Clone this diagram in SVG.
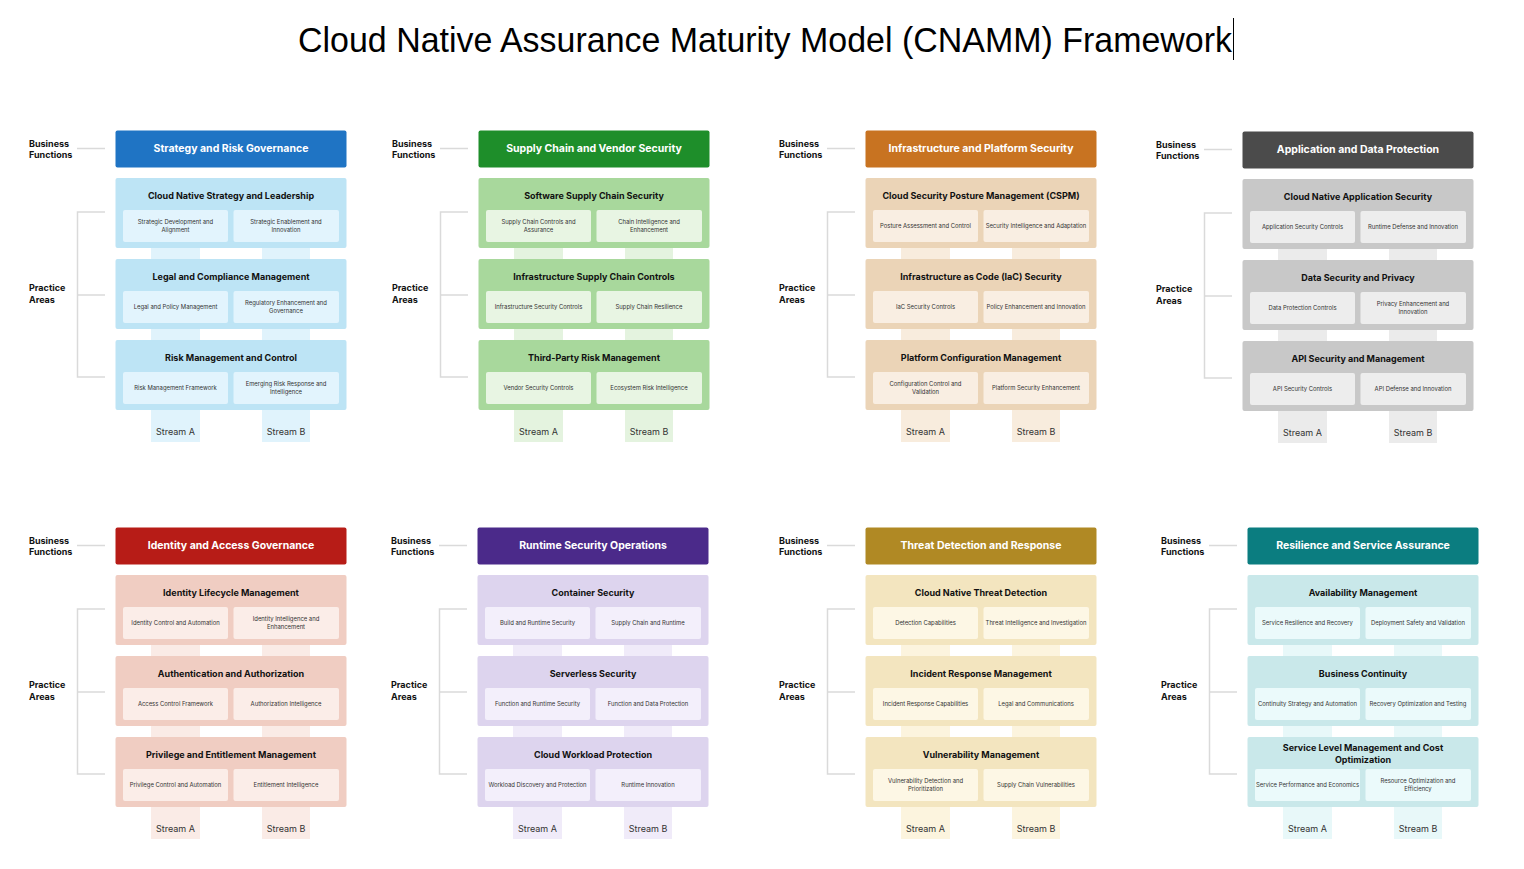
<svg xmlns="http://www.w3.org/2000/svg" width="1524" height="869" viewBox="0 0 1524 869">
<style>
text{font-family:Inter,"Noto Sans","Liberation Sans",sans-serif}
.ttl{font-family:"Liberation Sans",Arial,sans-serif;font-size:35px;fill:#000}
.lbl{font-size:9px;font-weight:700;fill:#111}
.hdt{font-size:10.5px;font-weight:700;fill:#fff;text-anchor:middle}
.bt{font-size:9px;font-weight:700;fill:#111;text-anchor:middle}
.sb{font-size:5.9px;fill:#333;text-anchor:middle}
.str{font-size:9px;fill:#333;text-anchor:middle}
.cn{fill:none;stroke:#dadada;stroke-width:1.5}
.p1 .h{fill:#1f74c4}.p1 .b{fill:#bde4f5}.p1 .s{fill:#e2f4fd}.p1 .c{fill:#e0f3fc}
.p2 .h{fill:#1e8e2a}.p2 .b{fill:#a8d89c}.p2 .s{fill:#e8f5e3}.p2 .c{fill:#e4f3df}
.p3 .h{fill:#c87321}.p3 .b{fill:#ebd4b7}.p3 .s{fill:#f9eee2}.p3 .c{fill:#f8ecdd}
.p4 .h{fill:#4b4b4b}.p4 .b{fill:#c8c8c8}.p4 .s{fill:#ededed}.p4 .c{fill:#ebebeb}
.p5 .h{fill:#b71c17}.p5 .b{fill:#f0cdc2}.p5 .s{fill:#fbede8}.p5 .c{fill:#faebe6}
.p6 .h{fill:#4b2a8a}.p6 .b{fill:#ddd4ee}.p6 .s{fill:#f3effb}.p6 .c{fill:#f0ebf9}
.p7 .h{fill:#b08924}.p7 .b{fill:#f3e5bf}.p7 .s{fill:#fdf7e5}.p7 .c{fill:#fcf4de}
.p8 .h{fill:#0b7d80}.p8 .b{fill:#c9e8ea}.p8 .s{fill:#ebfafb}.p8 .c{fill:#e8f8f9}
</style>
<defs>
<g id="cnx">
<line class="cn" x1="77" y1="148.5" x2="105" y2="148.5"/>
<path class="cn" d="M105 212H77.5V377H105M77.5 295H105"/>
</g>
<g id="labels">
<text class="lbl" x="29" y="147">Business</text>
<text class="lbl" x="29" y="158">Functions</text>
<text class="lbl" x="29" y="291">Practice</text>
<text class="lbl" x="29" y="303">Areas</text>
</g>
</defs>
<rect width="1524" height="869" fill="#fff"/>
<text id="title" class="ttl" x="298" y="52" textLength="934" lengthAdjust="spacingAndGlyphs">Cloud Native Assurance Maturity Model (CNAMM) Framework</text>
<line x1="1233.5" y1="18" x2="1233.5" y2="60" stroke="#000" stroke-width="1"/>

<g id="connectors">
<use href="#cnx"/>
<use href="#cnx" transform="translate(363,0)"/>
<use href="#cnx" transform="translate(750,0)"/>
<use href="#cnx" transform="translate(1127,1)"/>
<use href="#cnx" transform="translate(0,397)"/>
<use href="#cnx" transform="translate(362,397)"/>
<use href="#cnx" transform="translate(750,397)"/>
<use href="#cnx" transform="translate(1132,397)"/>
</g>

<!-- Panel 1 -->
<g id="panel-strategy" class="p1">
<use href="#labels"/>
<rect class="c" x="151" y="178" width="49" height="264"/><rect class="c" x="262" y="178" width="48" height="264"/>
<g id="strategy-header"><rect class="h" x="115.5" y="130.5" width="231" height="37" rx="2"/><text class="hdt" x="231" y="152">Strategy and Risk Governance</text></g>
<g id="cloud-native-strategy"><rect class="b" x="115.5" y="178" width="231" height="70" rx="2"/><text class="bt" x="231" y="199">Cloud Native Strategy and Leadership</text>
<rect class="s" x="123" y="210" width="105" height="32" rx="2"/><rect class="s" x="233.5" y="210" width="105.5" height="32" rx="2"/>
<text class="sb" x="175.5" y="224.3">Strategic Development and</text><text class="sb" x="175.5" y="231.7">Alignment</text>
<text class="sb" x="286" y="224.3">Strategic Enablement and</text><text class="sb" x="286" y="231.7">Innovation</text></g>
<g id="legal-compliance"><rect class="b" x="115.5" y="259" width="231" height="70" rx="2"/><text class="bt" x="231" y="280">Legal and Compliance Management</text>
<rect class="s" x="123" y="291" width="105" height="32" rx="2"/><rect class="s" x="233.5" y="291" width="105.5" height="32" rx="2"/>
<text class="sb" x="175.5" y="309">Legal and Policy Management</text>
<text class="sb" x="286" y="305.3">Regulatory Enhancement and</text><text class="sb" x="286" y="312.7">Governance</text></g>
<g id="risk-management"><rect class="b" x="115.5" y="340" width="231" height="70" rx="2"/><text class="bt" x="231" y="361">Risk Management and Control</text>
<rect class="s" x="123" y="372" width="105" height="32" rx="2"/><rect class="s" x="233.5" y="372" width="105.5" height="32" rx="2"/>
<text class="sb" x="175.5" y="390">Risk Management Framework</text>
<text class="sb" x="286" y="386.3">Emerging Risk Response and</text><text class="sb" x="286" y="393.7">Intelligence</text></g>
<text class="str" x="175.5" y="435">Stream A</text><text class="str" x="286" y="435">Stream B</text>
</g>

<!-- Panel 2 -->
<g id="panel-supply-chain" class="p2" transform="translate(363,0)">
<use href="#labels"/>
<rect class="c" x="151" y="178" width="49" height="264"/><rect class="c" x="262" y="178" width="48" height="264"/>
<g id="supply-header"><rect class="h" x="115.5" y="130.5" width="231" height="37" rx="2"/><text class="hdt" x="231" y="152">Supply Chain and Vendor Security</text></g>
<g id="software-supply-chain"><rect class="b" x="115.5" y="178" width="231" height="70" rx="2"/><text class="bt" x="231" y="199">Software Supply Chain Security</text>
<rect class="s" x="123" y="210" width="105" height="32" rx="2"/><rect class="s" x="233.5" y="210" width="105.5" height="32" rx="2"/>
<text class="sb" x="175.5" y="224.3">Supply Chain Controls and</text><text class="sb" x="175.5" y="231.7">Assurance</text>
<text class="sb" x="286" y="224.3">Chain Intelligence and</text><text class="sb" x="286" y="231.7">Enhancement</text></g>
<g id="infra-supply-chain"><rect class="b" x="115.5" y="259" width="231" height="70" rx="2"/><text class="bt" x="231" y="280">Infrastructure Supply Chain Controls</text>
<rect class="s" x="123" y="291" width="105" height="32" rx="2"/><rect class="s" x="233.5" y="291" width="105.5" height="32" rx="2"/>
<text class="sb" x="175.5" y="309">Infrastructure Security Controls</text>
<text class="sb" x="286" y="309">Supply Chain Resilience</text></g>
<g id="third-party-risk"><rect class="b" x="115.5" y="340" width="231" height="70" rx="2"/><text class="bt" x="231" y="361">Third-Party Risk Management</text>
<rect class="s" x="123" y="372" width="105" height="32" rx="2"/><rect class="s" x="233.5" y="372" width="105.5" height="32" rx="2"/>
<text class="sb" x="175.5" y="390">Vendor Security Controls</text>
<text class="sb" x="286" y="390">Ecosystem Risk Intelligence</text></g>
<text class="str" x="175.5" y="435">Stream A</text><text class="str" x="286" y="435">Stream B</text>
</g>

<!-- Panel 3 -->
<g id="panel-infrastructure" class="p3" transform="translate(750,0)">
<use href="#labels"/>
<rect class="c" x="151" y="178" width="49" height="264"/><rect class="c" x="262" y="178" width="48" height="264"/>
<g id="infra-header"><rect class="h" x="115.5" y="130.5" width="231" height="37" rx="2"/><text class="hdt" x="231" y="152">Infrastructure and Platform Security</text></g>
<g id="cspm"><rect class="b" x="115.5" y="178" width="231" height="70" rx="2"/><text class="bt" x="231" y="199">Cloud Security Posture Management (CSPM)</text>
<rect class="s" x="123" y="210" width="105" height="32" rx="2"/><rect class="s" x="233.5" y="210" width="105.5" height="32" rx="2"/>
<text class="sb" x="175.5" y="228">Posture Assessment and Control</text>
<text class="sb" x="286" y="228">Security Intelligence and Adaptation</text></g>
<g id="iac-security"><rect class="b" x="115.5" y="259" width="231" height="70" rx="2"/><text class="bt" x="231" y="280">Infrastructure as Code (IaC) Security</text>
<rect class="s" x="123" y="291" width="105" height="32" rx="2"/><rect class="s" x="233.5" y="291" width="105.5" height="32" rx="2"/>
<text class="sb" x="175.5" y="309">IaC Security Controls</text>
<text class="sb" x="286" y="309">Policy Enhancement and Innovation</text></g>
<g id="platform-config"><rect class="b" x="115.5" y="340" width="231" height="70" rx="2"/><text class="bt" x="231" y="361">Platform Configuration Management</text>
<rect class="s" x="123" y="372" width="105" height="32" rx="2"/><rect class="s" x="233.5" y="372" width="105.5" height="32" rx="2"/>
<text class="sb" x="175.5" y="386.3">Configuration Control and</text><text class="sb" x="175.5" y="393.7">Validation</text>
<text class="sb" x="286" y="390">Platform Security Enhancement</text></g>
<text class="str" x="175.5" y="435">Stream A</text><text class="str" x="286" y="435">Stream B</text>
</g>

<!-- Panel 4 -->
<g id="panel-application" class="p4" transform="translate(1127,1)">
<use href="#labels"/>
<rect class="c" x="151" y="178" width="49" height="264"/><rect class="c" x="262" y="178" width="48" height="264"/>
<g id="app-header"><rect class="h" x="115.5" y="130.5" width="231" height="37" rx="2"/><text class="hdt" x="231" y="152">Application and Data Protection</text></g>
<g id="cloud-native-app"><rect class="b" x="115.5" y="178" width="231" height="70" rx="2"/><text class="bt" x="231" y="199">Cloud Native Application Security</text>
<rect class="s" x="123" y="210" width="105" height="32" rx="2"/><rect class="s" x="233.5" y="210" width="105.5" height="32" rx="2"/>
<text class="sb" x="175.5" y="228">Application Security Controls</text>
<text class="sb" x="286" y="228">Runtime Defense and Innovation</text></g>
<g id="data-security"><rect class="b" x="115.5" y="259" width="231" height="70" rx="2"/><text class="bt" x="231" y="280">Data Security and Privacy</text>
<rect class="s" x="123" y="291" width="105" height="32" rx="2"/><rect class="s" x="233.5" y="291" width="105.5" height="32" rx="2"/>
<text class="sb" x="175.5" y="309">Data Protection Controls</text>
<text class="sb" x="286" y="305.3">Privacy Enhancement and</text><text class="sb" x="286" y="312.7">Innovation</text></g>
<g id="api-security"><rect class="b" x="115.5" y="340" width="231" height="70" rx="2"/><text class="bt" x="231" y="361">API Security and Management</text>
<rect class="s" x="123" y="372" width="105" height="32" rx="2"/><rect class="s" x="233.5" y="372" width="105.5" height="32" rx="2"/>
<text class="sb" x="175.5" y="390">API Security Controls</text>
<text class="sb" x="286" y="390">API Defense and Innovation</text></g>
<text class="str" x="175.5" y="435">Stream A</text><text class="str" x="286" y="435">Stream B</text>
</g>

<!-- Panel 5 -->
<g id="panel-identity" class="p5" transform="translate(0,397)">
<use href="#labels"/>
<rect class="c" x="151" y="178" width="49" height="264"/><rect class="c" x="262" y="178" width="48" height="264"/>
<g id="identity-header"><rect class="h" x="115.5" y="130.5" width="231" height="37" rx="2"/><text class="hdt" x="231" y="152">Identity and Access Governance</text></g>
<g id="identity-lifecycle"><rect class="b" x="115.5" y="178" width="231" height="70" rx="2"/><text class="bt" x="231" y="199">Identity Lifecycle Management</text>
<rect class="s" x="123" y="210" width="105" height="32" rx="2"/><rect class="s" x="233.5" y="210" width="105.5" height="32" rx="2"/>
<text class="sb" x="175.5" y="228">Identity Control and Automation</text>
<text class="sb" x="286" y="224.3">Identity Intelligence and</text><text class="sb" x="286" y="231.7">Enhancement</text></g>
<g id="authn-authz"><rect class="b" x="115.5" y="259" width="231" height="70" rx="2"/><text class="bt" x="231" y="280">Authentication and Authorization</text>
<rect class="s" x="123" y="291" width="105" height="32" rx="2"/><rect class="s" x="233.5" y="291" width="105.5" height="32" rx="2"/>
<text class="sb" x="175.5" y="309">Access Control Framework</text>
<text class="sb" x="286" y="309">Authorization Intelligence</text></g>
<g id="privilege"><rect class="b" x="115.5" y="340" width="231" height="70" rx="2"/><text class="bt" x="231" y="361">Privilege and Entitlement Management</text>
<rect class="s" x="123" y="372" width="105" height="32" rx="2"/><rect class="s" x="233.5" y="372" width="105.5" height="32" rx="2"/>
<text class="sb" x="175.5" y="390">Privilege Control and Automation</text>
<text class="sb" x="286" y="390">Entitlement Intelligence</text></g>
<text class="str" x="175.5" y="435">Stream A</text><text class="str" x="286" y="435">Stream B</text>
</g>

<!-- Panel 6 -->
<g id="panel-runtime" class="p6" transform="translate(362,397)">
<use href="#labels"/>
<rect class="c" x="151" y="178" width="49" height="264"/><rect class="c" x="262" y="178" width="48" height="264"/>
<g id="runtime-header"><rect class="h" x="115.5" y="130.5" width="231" height="37" rx="2"/><text class="hdt" x="231" y="152">Runtime Security Operations</text></g>
<g id="container-security"><rect class="b" x="115.5" y="178" width="231" height="70" rx="2"/><text class="bt" x="231" y="199">Container Security</text>
<rect class="s" x="123" y="210" width="105" height="32" rx="2"/><rect class="s" x="233.5" y="210" width="105.5" height="32" rx="2"/>
<text class="sb" x="175.5" y="228">Build and Runtime Security</text>
<text class="sb" x="286" y="228">Supply Chain and Runtime</text></g>
<g id="serverless-security"><rect class="b" x="115.5" y="259" width="231" height="70" rx="2"/><text class="bt" x="231" y="280">Serverless Security</text>
<rect class="s" x="123" y="291" width="105" height="32" rx="2"/><rect class="s" x="233.5" y="291" width="105.5" height="32" rx="2"/>
<text class="sb" x="175.5" y="309">Function and Runtime Security</text>
<text class="sb" x="286" y="309">Function and Data Protection</text></g>
<g id="workload-protection"><rect class="b" x="115.5" y="340" width="231" height="70" rx="2"/><text class="bt" x="231" y="361">Cloud Workload Protection</text>
<rect class="s" x="123" y="372" width="105" height="32" rx="2"/><rect class="s" x="233.5" y="372" width="105.5" height="32" rx="2"/>
<text class="sb" x="175.5" y="390">Workload Discovery and Protection</text>
<text class="sb" x="286" y="390">Runtime Innovation</text></g>
<text class="str" x="175.5" y="435">Stream A</text><text class="str" x="286" y="435">Stream B</text>
</g>

<!-- Panel 7 -->
<g id="panel-threat" class="p7" transform="translate(750,397)">
<use href="#labels"/>
<rect class="c" x="151" y="178" width="49" height="264"/><rect class="c" x="262" y="178" width="48" height="264"/>
<g id="threat-header"><rect class="h" x="115.5" y="130.5" width="231" height="37" rx="2"/><text class="hdt" x="231" y="152">Threat Detection and Response</text></g>
<g id="threat-detection"><rect class="b" x="115.5" y="178" width="231" height="70" rx="2"/><text class="bt" x="231" y="199">Cloud Native Threat Detection</text>
<rect class="s" x="123" y="210" width="105" height="32" rx="2"/><rect class="s" x="233.5" y="210" width="105.5" height="32" rx="2"/>
<text class="sb" x="175.5" y="228">Detection Capabilities</text>
<text class="sb" x="286" y="228">Threat Intelligence and Investigation</text></g>
<g id="incident-response"><rect class="b" x="115.5" y="259" width="231" height="70" rx="2"/><text class="bt" x="231" y="280">Incident Response Management</text>
<rect class="s" x="123" y="291" width="105" height="32" rx="2"/><rect class="s" x="233.5" y="291" width="105.5" height="32" rx="2"/>
<text class="sb" x="175.5" y="309">Incident Response Capabilities</text>
<text class="sb" x="286" y="309">Legal and Communications</text></g>
<g id="vulnerability-mgmt"><rect class="b" x="115.5" y="340" width="231" height="70" rx="2"/><text class="bt" x="231" y="361">Vulnerability Management</text>
<rect class="s" x="123" y="372" width="105" height="32" rx="2"/><rect class="s" x="233.5" y="372" width="105.5" height="32" rx="2"/>
<text class="sb" x="175.5" y="386.3">Vulnerability Detection and</text><text class="sb" x="175.5" y="393.7">Prioritization</text>
<text class="sb" x="286" y="390">Supply Chain Vulnerabilities</text></g>
<text class="str" x="175.5" y="435">Stream A</text><text class="str" x="286" y="435">Stream B</text>
</g>

<!-- Panel 8 -->
<g id="panel-resilience" class="p8" transform="translate(1132,397)">
<use href="#labels"/>
<rect class="c" x="151" y="178" width="49" height="264"/><rect class="c" x="262" y="178" width="48" height="264"/>
<g id="resilience-header"><rect class="h" x="115.5" y="130.5" width="231" height="37" rx="2"/><text class="hdt" x="231" y="152">Resilience and Service Assurance</text></g>
<g id="availability"><rect class="b" x="115.5" y="178" width="231" height="70" rx="2"/><text class="bt" x="231" y="199">Availability Management</text>
<rect class="s" x="123" y="210" width="105" height="32" rx="2"/><rect class="s" x="233.5" y="210" width="105.5" height="32" rx="2"/>
<text class="sb" x="175.5" y="228">Service Resilience and Recovery</text>
<text class="sb" x="286" y="228">Deployment Safety and Validation</text></g>
<g id="business-continuity"><rect class="b" x="115.5" y="259" width="231" height="70" rx="2"/><text class="bt" x="231" y="280">Business Continuity</text>
<rect class="s" x="123" y="291" width="105" height="32" rx="2"/><rect class="s" x="233.5" y="291" width="105.5" height="32" rx="2"/>
<text class="sb" x="175.5" y="309">Continuity Strategy and Automation</text>
<text class="sb" x="286" y="309">Recovery Optimization and Testing</text></g>
<g id="service-level"><rect class="b" x="115.5" y="340" width="231" height="70" rx="2"/><text class="bt" x="231" y="354">Service Level Management and Cost</text><text class="bt" x="231" y="366">Optimization</text>
<rect class="s" x="123" y="372" width="105" height="32" rx="2"/><rect class="s" x="233.5" y="372" width="105.5" height="32" rx="2"/>
<text class="sb" x="175.5" y="390">Service Performance and Economics</text>
<text class="sb" x="286" y="386.3">Resource Optimization and</text><text class="sb" x="286" y="393.7">Efficiency</text></g>
<text class="str" x="175.5" y="435">Stream A</text><text class="str" x="286" y="435">Stream B</text>
</g>
</svg>
